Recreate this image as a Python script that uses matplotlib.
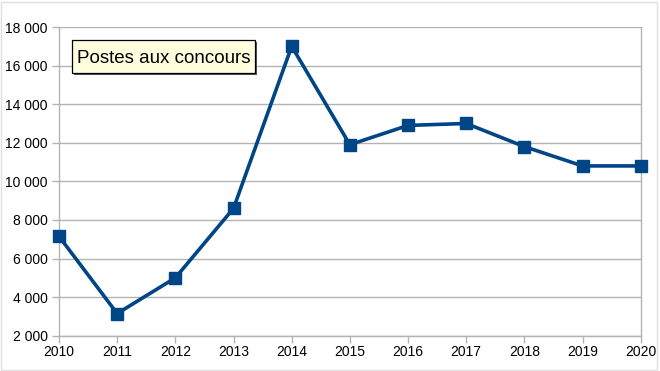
import matplotlib.pyplot as plt
from matplotlib.ticker import FuncFormatter
from matplotlib.patches import Rectangle

plt.rcParams['font.family'] = ['Liberation Sans', 'DejaVu Sans']

# -------------------------
# Data
# -------------------------
years = [2010, 2011, 2012, 2013, 2014, 2015, 2016, 2017, 2018, 2019, 2020]
postes = [7150, 3150, 5000, 8600, 17000, 11900, 12900, 13000, 11800, 10800, 10800]
title = "Postes aux concours"

blue = "#004586"
grid_grey = "#b3b3b3"

W, H = 660, 371
fig = plt.figure(figsize=(W / 100, H / 100), dpi=100)
ax = fig.add_axes([0.0894, 0.0951, 0.9708 - 0.0894, 0.9272 - 0.0951])

# light outer frame
fig.patches.append(Rectangle((0.002, 0.003), 0.994, 0.992, transform=fig.transFigure,
                             fill=False, edgecolor="#e0e0e0", linewidth=1))

ax.plot(years, postes, color=blue, linewidth=2.6, marker="s", markersize=8,
        markerfacecolor=blue, markeredgecolor=blue, clip_on=False, zorder=3)

ax.set_xlim(2010, 2020)
ax.set_ylim(2000, 18000)
ax.set_xticks(years)
ax.set_yticks(range(2000, 18001, 2000))
ax.yaxis.set_major_formatter(FuncFormatter(lambda v, p: f"{int(v):,}".replace(",", " ")))

ax.grid(axis="y", color=grid_grey, linewidth=1)
ax.set_axisbelow(True)
for side in ["left", "bottom", "right"]:
    ax.spines[side].set_color(grid_grey)
    ax.spines[side].set_linewidth(1)
ax.spines["top"].set_visible(False)
ax.tick_params(axis="both", colors=grid_grey, labelcolor="black", labelsize=10,
               length=5, width=1, direction="out")
ax.tick_params(axis="x", pad=2)
ax.tick_params(axis="y", pad=3)

# title box (pixel box 72..255 x 40..73 from top), with a small shadow
bx, by, bw, bh = 72 / W, (H - 73) / H, 183 / W, 33 / H
fig.patches.append(Rectangle((bx + 1.5 / W, by - 1.5 / H), bw, bh, transform=fig.transFigure,
                             facecolor="#555555", edgecolor="none", zorder=4))
fig.patches.append(Rectangle((bx, by), bw, bh, transform=fig.transFigure,
                             facecolor="#ffffe0", edgecolor="black", linewidth=0.9, zorder=5))
fig.text(bx + bw / 2, by + bh / 2, title, fontsize=13.5, ha="center", va="center_baseline",
         zorder=6)

fig.savefig("out.png", dpi=100)
